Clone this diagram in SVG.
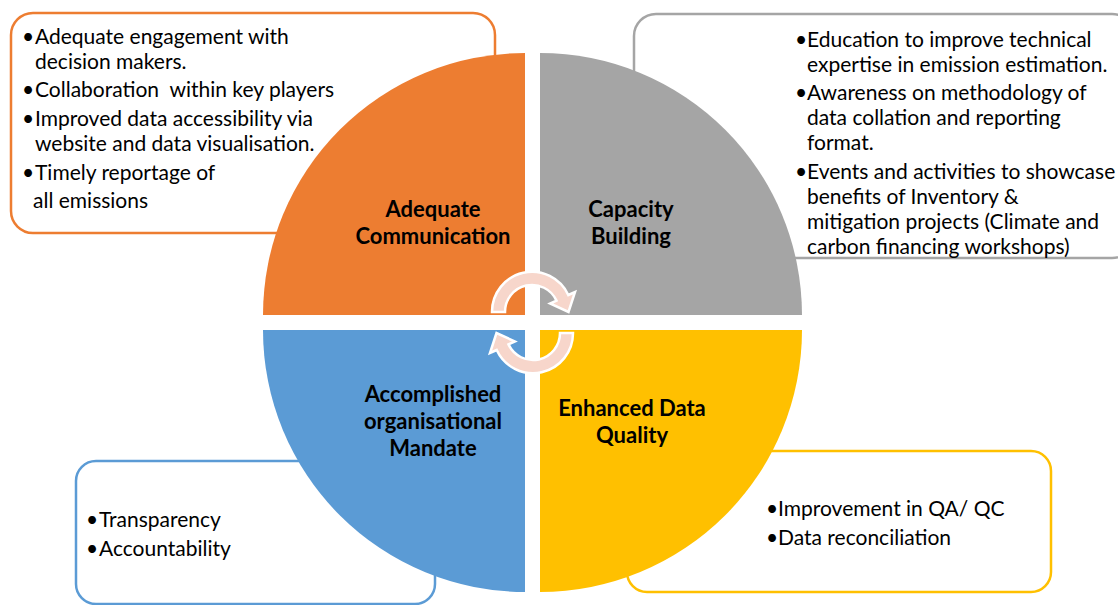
<svg xmlns="http://www.w3.org/2000/svg" width="1118" height="605" viewBox="0 0 1118 605">
<style>
.t{font-family:Lato,"Liberation Sans",sans-serif;font-size:21px;fill:#000}
.lbl{font-family:Lato,"Liberation Sans",sans-serif;font-size:22px;font-weight:bold;fill:#000;text-anchor:middle}
.box{fill:#fff;stroke-width:2.5}
.arr{fill:#F7D6CB;stroke:#fff;stroke-width:2.5;stroke-linejoin:miter}
</style>
<rect width="1118" height="605" fill="#fff"/>
<g id="node-communication">
<rect class="box" x="11" y="13" width="484" height="220" rx="22" stroke="#ED7D31"/>
<text class="t"><tspan x="22" y="44">•</tspan><tspan x="35" y="44">Adequate engagement with</tspan><tspan x="35" y="69">decision makers.</tspan></text>
<text class="t" xml:space="preserve"><tspan x="22" y="97">•</tspan><tspan x="35" y="97">Collaboration  within key players</tspan></text>
<text class="t"><tspan x="22" y="126">•</tspan><tspan x="35" y="126">Improved data accessibility via</tspan><tspan x="35" y="151">website and data visualisation.</tspan></text>
<text class="t"><tspan x="22" y="180">•</tspan><tspan x="35" y="180">Timely reportage of</tspan><tspan x="33" y="208">all emissions</tspan></text>
<path d="M525,315 L263,315 A262,262 0 0 1 525,53 Z" fill="#ED7D31"/>
<text class="lbl"><tspan x="433" y="217">Adequate</tspan><tspan x="433" y="244">Communication</tspan></text>
</g>
<g id="node-capacity">
<rect class="box" x="634" y="14" width="500" height="244" rx="22" stroke="#A5A5A5"/>
<text class="t"><tspan x="795" y="47">•</tspan><tspan x="807" y="47">Education to improve technical</tspan><tspan x="807" y="72">expertise in emission estimation.</tspan></text>
<text class="t"><tspan x="795" y="100">•</tspan><tspan x="807" y="100">Awareness on methodology of</tspan><tspan x="807" y="125">data collation and reporting</tspan><tspan x="807" y="150">format.</tspan></text>
<text class="t"><tspan x="795" y="179">•</tspan><tspan x="807" y="179">Events and activities to showcase</tspan><tspan x="807" y="204">benefits of Inventory &amp;</tspan><tspan x="807" y="229">mitigation projects (Climate and</tspan><tspan x="807" y="254">carbon financing workshops)</tspan></text>
<path d="M540,315 L540,53 A262,262 0 0 1 802,315 Z" fill="#A5A5A5"/>
<text class="lbl"><tspan x="631" y="217">Capacity</tspan><tspan x="631" y="244">Building</tspan></text>
</g>
<g id="node-mandate">
<rect class="box" x="76" y="461" width="359" height="143" rx="20" stroke="#5B9BD5"/>
<text class="t"><tspan x="86" y="527">•</tspan><tspan x="99" y="527">Transparency</tspan></text>
<text class="t"><tspan x="86" y="556">•</tspan><tspan x="99" y="556">Accountability</tspan></text>
<path d="M525,330 L525,592 A262,262 0 0 1 263,330 Z" fill="#5B9BD5"/>
<text class="lbl"><tspan x="433" y="402">Accomplished</tspan><tspan x="433" y="429">organisational</tspan><tspan x="433" y="456">Mandate</tspan></text>
</g>
<g id="node-quality">
<rect class="box" x="627" y="451" width="424" height="141" rx="20" stroke="#FFC000"/>
<text class="t"><tspan x="766" y="516">•</tspan><tspan x="778" y="516">Improvement in QA/ QC</tspan></text>
<text class="t"><tspan x="766" y="545">•</tspan><tspan x="778" y="545">Data reconciliation</tspan></text>
<path d="M540,330 L802,330 A262,262 0 0 1 540,592 Z" fill="#FFC000"/>
<text class="lbl"><tspan x="632" y="416">Enhanced Data</tspan><tspan x="632" y="443">Quality</tspan></text>
</g>
<g id="connectors">
<path id="arrow-top" class="arr" d="M492,312 A40,40 0 0 1 568.3,295 L575,292 L568.5,312 L550.1,303.5 L556.5,300.6 A27,27 0 0 0 505,312 Z"/>
<path id="arrow-bottom" class="arr" transform="rotate(180 532.5 322.5)" d="M492,312 A40,40 0 0 1 568.3,295 L575,292 L568.5,312 L550.1,303.5 L556.5,300.6 A27,27 0 0 0 505,312 Z"/>
</g>
</svg>
